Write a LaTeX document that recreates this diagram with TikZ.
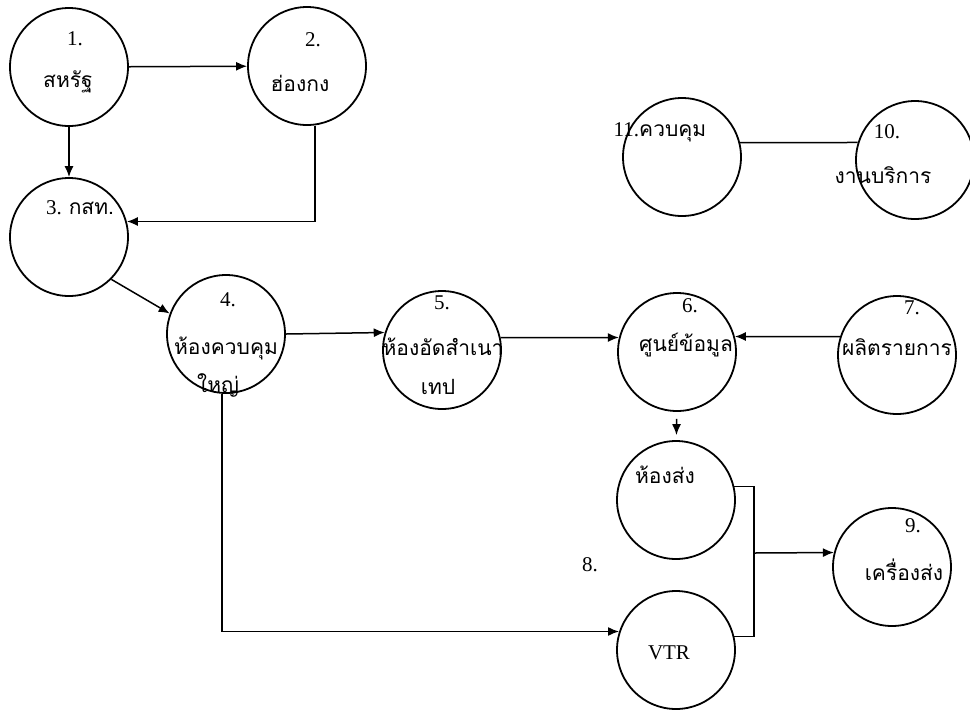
\documentclass[tikz,border=0pt]{standalone}
\usepackage{fontspec}
\setmainfont{Liberation Serif}
\newfontfamily\thaifont[Script=Thai]{Loma}
\usetikzlibrary{arrows.meta}
\begin{document}
\begin{tikzpicture}[x=0.5pt,y=-0.5pt,
		proc/.style={draw,circle,line width=0.9pt,minimum size=59pt,inner sep=0pt},
		txt/.style={inner sep=0pt,font=\fontsize{10.5}{12}\selectfont},
		th/.style={inner sep=0pt,font=\fontsize{10.5}{12}\selectfont\thaifont},
		arr/.style={-{Latex[length=5.5pt,width=4.5pt]},line width=0.75pt},
		link/.style={line width=0.75pt}]
			\useasboundingbox (0,0) rectangle (970,709);
			\fill[white] (0,0) rectangle (970,709);
			
			\node[proc] (c1) at (69,67) {};
			\node[proc] (c2) at (307,66) {};
			\node[proc] (c3) at (69,237) {};
			\node[proc] (c4) at (226,334) {};
			\node[proc] (c5) at (442,350) {};
			\node[proc] (c6) at (677,352) {};
			\node[proc] (c7) at (897,355) {};
			\node[proc] (c8a) at (676,500) {};
			\node[proc] (c8b) at (676,650) {};
			\node[proc] (c9) at (892,567) {};
			\node[proc] (c10) at (915,160) {};
			\node[proc] (c11) at (682,157) {};
			
			\node[txt] (t1) at (75,39) {1.};
			\node[th] (n1) at (68,82) {สหรัฐ};
			\node[txt] (t2) at (313,40) {2.};
			\node[th] (n2) at (300,83) {ฮ่องกง};
			\node[txt] (t3) at (80,208) {3. {\thaifont กสท.}};
			\node[txt] (t4) at (228,300) {4.};
			\node[th] (n4) at (226,348) {ห้องควบคุม};
			\node[th] (m4) at (218,385) {ใหญ่};
			\node[txt] (t5) at (442,303) {5.};
			\node[th] (n5) at (443,347) {ห้องอัดสำเนา};
			\node[th] (m5) at (438,387) {เทป};
			\node[txt] (t6) at (690,306) {6.};
			\node[th] (n6) at (686,345) {ศูนย์ข้อมูล};
			\node[txt] (t7) at (912,308) {7.};
			\node[th] (n7) at (897,347) {ผลิตรายการ};
			\node[th] (n8a) at (665,475) {ห้องส่ง};
			\node[txt] (t8) at (590,565) {8.};
			\node[txt] (n8b) at (669,653) {VTR};
			\node[txt] (t9) at (913,526) {9.};
			\node[th] (n9) at (904,570) {เครื่องส่ง};
			\node[txt] (t10) at (887,132) {10.};
			\node[th] (n10) at (883,175) {งานบริการ};
			\node[txt] (t11) at (660,132) {11.{\thaifont ควบคุม}};
			
			\draw[arr] (c1) -- (c2);
			\draw[arr] (c1) -- (c3);
			\draw[arr] ([xshift=4pt]c2.south) |- (c3.15);
			\draw[arr] (c3.-45) -- (c4.160);
			\draw[arr] (c4.east) -- (c5.163);
			\draw[arr] (c5.12) -- (c6.166);
			\draw[arr] (c7.162) -- (c6.15);
			\draw[arr,shorten <=3.5pt,shorten >=2.5pt] (c6) -- (c8a);
			\draw[arr] ([xshift=-2pt]c4.south) |- (c8b.162);
			
			\coordinate (j) at (754,553);
			\draw[link] (c8a.13) -| (j) |- (c8b.13);
			\draw[arr] (j) -- (c9.166);
			
			\draw[link] (c11.14) -- (c10.163);
			\end{tikzpicture}
\end{document}
